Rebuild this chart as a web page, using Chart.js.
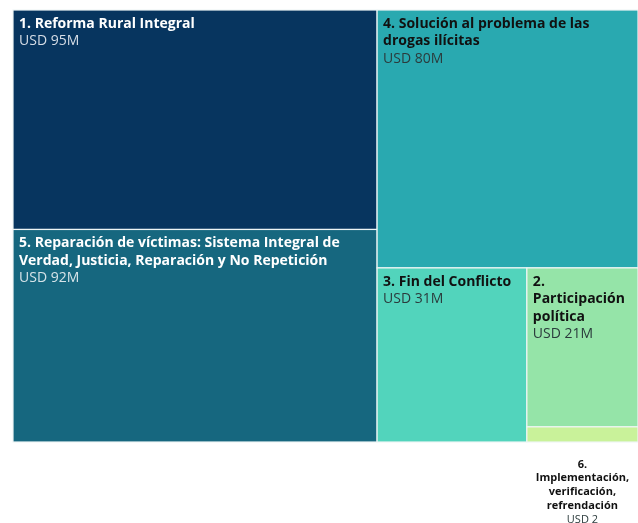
<!DOCTYPE html>
<html>
<head>
<meta charset="utf-8">
<script src="https://cdn.jsdelivr.net/npm/chart.js@4.4.1/dist/chart.umd.min.js"></script>
<style>
  html, body { margin: 0; padding: 0; background: #ffffff; }
</style>
</head>
<body>
<canvas id="treemap" width="638" height="523"></canvas>
<script>
// Pillars of the peace agreement and their funding (USD millions).
const pillars = [
  '1. Reforma Rural Integral',
  '5. Reparación de víctimas: Sistema Integral de Verdad, Justicia, Reparación y No Repetición',
  '4. Solución al problema de las drogas ilícitas',
  '3. Fin del Conflicto',
  '2. Participación política',
  '6. Implementación, verificación, refrendación',
];
const amounts = [95, 92, 80, 31, 21, 2];
const amountLabels = ['USD 95M', 'USD 92M', 'USD 80M', 'USD 31M', 'USD 21M', 'USD 2'];
const tileColors = ['#07355f', '#16677f', '#29a9b0', '#52d4bc', '#95e4a8', '#c9f29a'];
const titleColors = ['#ffffff', '#ffffff', '#111111', '#111111', '#111111', '#111111'];
const amountColors = ['#d6dde6', '#d6e3e8', '#2b3b3c', '#2b3b3c', '#2b3b3c', '#2b3b3c'];

const FONT = '"Open Sans", "Noto Sans", sans-serif';

// Squarified layout inside a w x h box, returns rects in the same units.
const worst = (row, side) => {
  const s = row.reduce((a, b) => a + b, 0);
  const mx = Math.max(...row);
  const mn = Math.min(...row);
  return Math.max((side * side * mx) / (s * s), (s * s) / (side * side * mn));
};

const squarify = (values, w, h) => {
  const total = values.reduce((a, b) => a + b, 0);
  const areas = values.map((v) => (v * w * h) / total);
  const out = [];
  let x = 0, y = 0, i = 0;
  while (i < areas.length) {
    const side = Math.min(w, h);
    const row = [areas[i]];
    let j = i + 1;
    while (j < areas.length && worst(row.concat(areas[j]), side) <= worst(row, side)) {
      row.push(areas[j]);
      j++;
    }
    const sum = row.reduce((a, b) => a + b, 0);
    if (w >= h) {
      const cw = sum / h;
      let cy = y;
      row.forEach((a) => { out.push({ x, y: cy, w: cw, h: a / cw }); cy += a / cw; });
      x += cw; w -= cw;
    } else {
      const rh = sum / w;
      let cx = x;
      row.forEach((a) => { out.push({ x: cx, y, w: a / rh, h: rh }); cx += a / rh; });
      y += rh; h -= rh;
    }
    i = j;
  }
  return out;
};

const wrapText = (ctx, text, maxWidth) => {
  const words = text.split(' ');
  const lines = [];
  let line = '';
  words.forEach((word) => {
    const test = line ? line + ' ' + word : word;
    if (line && ctx.measureText(test).width > maxWidth) {
      lines.push(line);
      line = word;
    } else {
      line = test;
    }
  });
  if (line) lines.push(line);
  return lines;
};

const treemapPlugin = {
  id: 'treemapTiles',
  afterDatasetsDraw(chart) {
    const { ctx, chartArea, scales } = chart;
    const xs = scales.x;
    const ys = scales.y;
    const aspect = chartArea.width / chartArea.height;
    // layout in data units: x spans 0..1, y spans 0..1 (scaled by aspect for squareness)
    const rects = squarify(amounts, aspect, 1).map((r) => ({
      x0: r.x / aspect, x1: (r.x + r.w) / aspect, y0: r.y, y1: r.y + r.h,
    }));

    ctx.save();
    rects.forEach((r, i) => {
      const left = xs.getPixelForValue(r.x0);
      const right = xs.getPixelForValue(r.x1);
      const top = ys.getPixelForValue(r.y0);
      const bottom = ys.getPixelForValue(r.y1);
      ctx.fillStyle = tileColors[i];
      ctx.fillRect(left, top, right - left, bottom - top);
      ctx.strokeStyle = '#eef5f5';
      ctx.lineWidth = 1.2;
      ctx.strokeRect(left, top, right - left, bottom - top);
    });

    rects.forEach((r, i) => {
      const left = xs.getPixelForValue(r.x0);
      const right = xs.getPixelForValue(r.x1);
      const top = ys.getPixelForValue(r.y0);
      const bottom = ys.getPixelForValue(r.y1);
      const tileW = right - left;
      ctx.textBaseline = 'top';
      if (bottom - top > 40) {
        ctx.textAlign = 'left';
        ctx.font = 'bold 14px ' + FONT;
        ctx.fillStyle = titleColors[i];
        const lines = wrapText(ctx, pillars[i], tileW - 14);
        let ty = top + 7;
        lines.forEach((ln) => { ctx.fillText(ln, left + 6, ty); ty += 17.5; });
        ctx.font = '14px ' + FONT;
        ctx.fillStyle = amountColors[i];
        ctx.fillText(amountLabels[i], left + 6, ty);
      } else {
        // too small: label sits centred below the tile
        const cx = (left + right) / 2;
        ctx.textAlign = 'center';
        ctx.font = 'bold 11px ' + FONT;
        ctx.fillStyle = '#111111';
        const lines = wrapText(ctx, pillars[i], 96);
        let ty = bottom + 17;
        lines.forEach((ln) => { ctx.fillText(ln, cx, ty); ty += 13.8; });
        ctx.font = '11px ' + FONT;
        ctx.fillStyle = '#2b3b3c';
        ctx.fillText(amountLabels[i], cx, ty);
      }
    });
    ctx.restore();
  },
};

new Chart(document.getElementById('treemap').getContext('2d'), {
  type: 'scatter',
  data: { datasets: [{ data: [] }] },
  options: {
    responsive: false,
    animation: false,
    layout: { padding: { left: 13, top: 10, right: 0, bottom: 81 } },
    scales: {
      x: { type: 'linear', min: 0, max: 1, display: false },
      y: { type: 'linear', min: 0, max: 1, reverse: true, display: false },
    },
    plugins: {
      legend: { display: false },
      tooltip: { enabled: false },
    },
  },
  plugins: [treemapPlugin],
});
</script>
</body>
</html>
